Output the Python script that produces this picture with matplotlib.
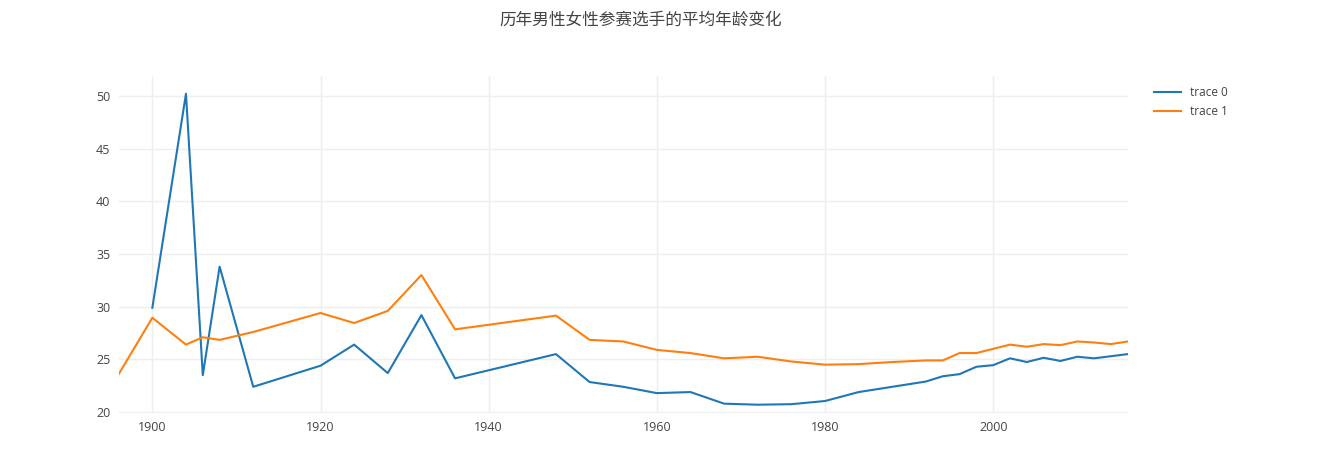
#!/usr/bin/env python3
# Average age of male / female Olympic athletes by year (plotly-style look)

import matplotlib
matplotlib.use("Agg")
import matplotlib.pyplot as plt

plt.rcParams['font.family'] = ['Open Sans', 'Noto Sans CJK SC', 'DejaVu Sans']

# trace 0 (blue)
years_0 = [1900, 1904, 1906, 1908, 1912, 1920, 1924, 1928, 1932, 1936, 1948,
           1952, 1956, 1960, 1964, 1968, 1972, 1976, 1980, 1984, 1988, 1992,
           1994, 1996, 1998, 2000, 2002, 2004, 2006, 2008, 2010, 2012, 2014, 2016]
age_0 = [29.9, 50.2, 23.5, 33.8, 22.4, 24.4, 26.4, 23.7, 29.2, 23.2, 25.5,
         22.85, 22.4, 21.8, 21.9, 20.8, 20.7, 20.75, 21.05, 21.9, 22.4, 22.9,
         23.4, 23.6, 24.3, 24.45, 25.1, 24.75, 25.15, 24.85, 25.25, 25.1, 25.3, 25.5]

# trace 1 (orange)
years_1 = [1896] + years_0
age_1 = [23.6, 28.95, 26.4, 27.1, 26.85, 27.6, 29.4, 28.45, 29.6, 33.0, 27.85, 29.15,
         26.85, 26.7, 25.9, 25.6, 25.1, 25.25, 24.8, 24.5, 24.55, 24.75, 24.9,
         24.9, 25.6, 25.6, 26.0, 26.4, 26.2, 26.45, 26.35, 26.7, 26.6, 26.45, 26.7]

x_ticks = [1900, 1920, 1940, 1960, 1980, 2000]
y_ticks = [20, 25, 30, 35, 40, 45, 50]

TEXT = '#444444'
GRID = '#eeeeee'

fig = plt.figure(figsize=(13.19, 4.54), dpi=100)
ax = fig.add_axes([0.090, 0.090, 0.765, 0.743])

ax.plot(years_0, age_0, color='#1f77b4', lw=1.5, label='trace 0')
ax.plot(years_1, age_1, color='#ff7f0e', lw=1.5, label='trace 1')

ax.set_xlim(1896, 2016)
ax.set_ylim(19.9, 51.9)
ax.set_xticks(x_ticks)
ax.set_yticks(y_ticks)
ax.grid(True, color=GRID, lw=1)
ax.set_axisbelow(True)
for s in ax.spines.values():
    s.set_visible(False)
ax.tick_params(length=0, colors=TEXT, labelsize=9, pad=6)

fig.text(0.486, 0.955, '历年男性女性参赛选手的平均年龄变化', ha='center', va='center',
         fontsize=12, color=TEXT, family=['Noto Sans CJK SC', 'DejaVu Sans'])

leg = ax.legend(loc='upper left', bbox_to_anchor=(1.015, 1.0), frameon=False,
                fontsize=8.5, handlelength=2.3, labelcolor=TEXT)

fig.savefig('out.png', dpi=100)
